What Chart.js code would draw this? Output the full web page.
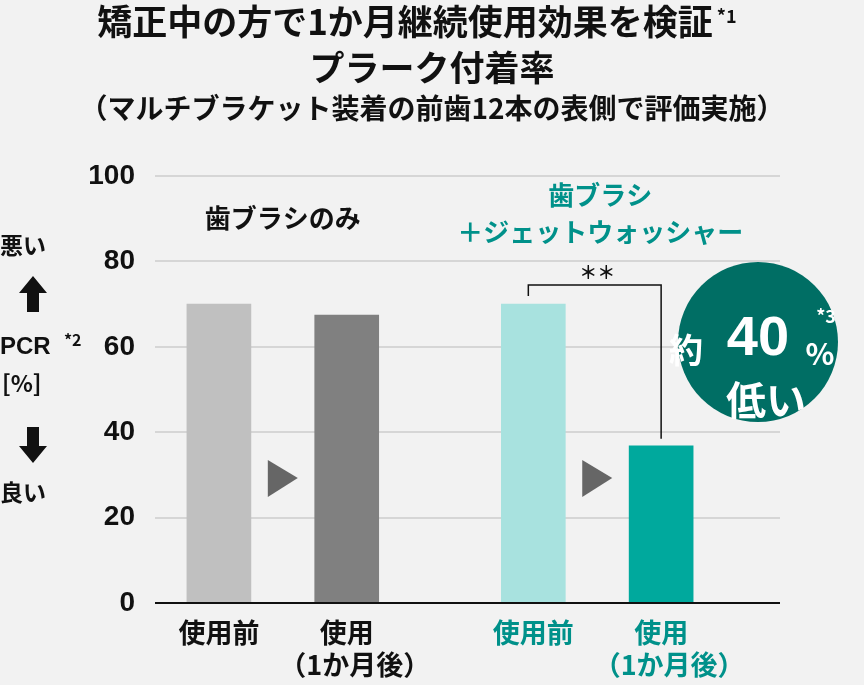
<!DOCTYPE html><html><head><meta charset="utf-8">
<script src="https://cdn.jsdelivr.net/npm/chart.js@4"></script>
<style>html,body{margin:0;padding:0;background:#f2f2f2}canvas{display:block}</style></head><body>
<div style="width:864px;height:685px"><canvas id="c"></canvas></div>
<script>
const categories=["使用前","使用\n（1か月後）","使用前","使用\n（1か月後）"];
const positions=[0,1,2.46,3.46];
const values=[70,67.4,70,36.8];
const barColors=["#c0c0c0","#808080","#a8e2df","#00a99d"];
const labelColors=["#111","#111","#00918a","#00918a"];
const yTicks=[0,20,40,60,80,100];
const F='"Noto Sans CJK JP", "Liberation Sans", sans-serif';
const textPlugin={id:'txt',afterDraw(ch){
 const c=ch.ctx,x=ch.scales.x,y=ch.scales.y;c.save();
 c.textAlign='center';c.textBaseline='middle';c.fillStyle='#111';
 c.font='bold 35px '+F;const t1='矯正中の方で1か月継続使用効果を検証';c.fillText(t1,405,22);
 const w1=c.measureText(t1).width;
 c.textAlign='left';c.font='bold 18px '+F;c.fillText('*1',405+w1/2+4,16);c.textAlign='center';
 c.font='bold 35px '+F;c.fillText('プラーク付着率',432,68);
 c.font='bold 28px '+F;c.fillText('（マルチブラケット装着の前歯12本の表側で評価実施）',432,108);
 c.textAlign='left';c.font='bold 23px '+F;
 c.fillText('悪い',0,245);c.fillText('[%]',2,383);c.fillText('良い',0,492);
 c.font='bold 24px "Liberation Sans", sans-serif';c.fillText('PCR',0,347);
 c.font='bold 16px '+F;c.fillText('*2',64,340);
 c.fillStyle='#111';
 c.beginPath();c.moveTo(33,276);c.lineTo(47,293);c.lineTo(39,293);c.lineTo(39,312);c.lineTo(27,312);c.lineTo(27,293);c.lineTo(19,293);c.closePath();c.fill();
 c.beginPath();c.moveTo(33,463);c.lineTo(47,446);c.lineTo(39,446);c.lineTo(39,427);c.lineTo(27,427);c.lineTo(27,446);c.lineTo(19,446);c.closePath();c.fill();
 c.textAlign='center';c.font='bold 26px '+F;
 c.fillText('歯ブラシのみ',(x.getPixelForValue(positions[0])+x.getPixelForValue(positions[1]))/2,218);
 c.fillStyle='#00918a';
 const g2=(x.getPixelForValue(positions[2])+x.getPixelForValue(positions[3]))/2;
 c.fillText('歯ブラシ',g2+3,195);c.fillText('＋ジェットウォッシャー',g2+3,232);
 c.fillStyle='#666';
 [[positions[0],positions[1]],[positions[2],positions[3]]].forEach(p=>{const m=(x.getPixelForValue(p[0])+x.getPixelForValue(p[1]))/2;
  c.beginPath();c.moveTo(m-15,460);c.lineTo(m+15,478);c.lineTo(m-15,497);c.closePath();c.fill();});
 const b1=x.getPixelForValue(positions[2]),b2=x.getPixelForValue(positions[3]);
 c.strokeStyle='#111';c.lineWidth=1.5;c.beginPath();
 c.moveTo(b1-5,y.getPixelForValue(values[2])-8);c.lineTo(b1-5,285);c.lineTo(b2,285);c.lineTo(b2,y.getPixelForValue(values[3])-7);c.stroke();
 c.fillStyle='#111';c.font='bold 18px '+F;c.fillText('＊＊',(b1+b2)/2,272);
 c.fillStyle='#006e64';c.beginPath();c.arc(758,342,80,0,Math.PI*2);c.fill();
 c.fillStyle='#fff';c.font='bold 34px '+F;c.fillText('約',686,350);
 c.font='bold 56px "Liberation Sans", sans-serif';c.fillText('40',758,340);
 c.font='bold 30px '+F;c.fillText('%',820,354);
 c.font='bold 18px '+F;c.fillText('*3',826,316);
 c.font='bold 40px '+F;c.fillText('低い',766,400);
 c.font='bold 27px '+F;
 categories.forEach((t,i)=>{c.fillStyle=labelColors[i];const px=x.getPixelForValue(positions[i]);
  t.split('\n').forEach((l,j)=>c.fillText(l,px+(j?8:0),633+j*32));});
 c.restore();}};
new Chart(document.getElementById('c'),{type:'bar',
 data:{datasets:[{data:positions.map((p,i)=>({x:p,y:values[i]})),backgroundColor:barColors,barThickness:64}]},
 options:{responsive:true,maintainAspectRatio:false,animation:false,
 layout:{padding:{top:176,bottom:82,right:84,left:0}},
 plugins:{legend:{display:false},tooltip:{enabled:false}},
 scales:{x:{type:'linear',min:-0.5,max:4.39,offset:false,display:false},
  y:{min:0,max:100,afterFit(s){s.width=155},afterBuildTicks(s){s.ticks=yTicks.map(v=>({value:v}))},
   border:{display:false},grid:{color:'#d6d6d6',lineWidth:2,drawTicks:false},
   ticks:{padding:20,color:'#111',font:{family:'"Liberation Sans", sans-serif',size:28,weight:'bold'}}}}},
 plugins:[textPlugin,{id:'base',afterDatasetsDraw(ch){const c=ch.ctx,a=ch.chartArea;c.save();c.strokeStyle='#111';c.lineWidth=2;c.beginPath();c.moveTo(a.left,a.bottom);c.lineTo(a.right,a.bottom);c.stroke();c.restore();}}]});
</script></body></html>
